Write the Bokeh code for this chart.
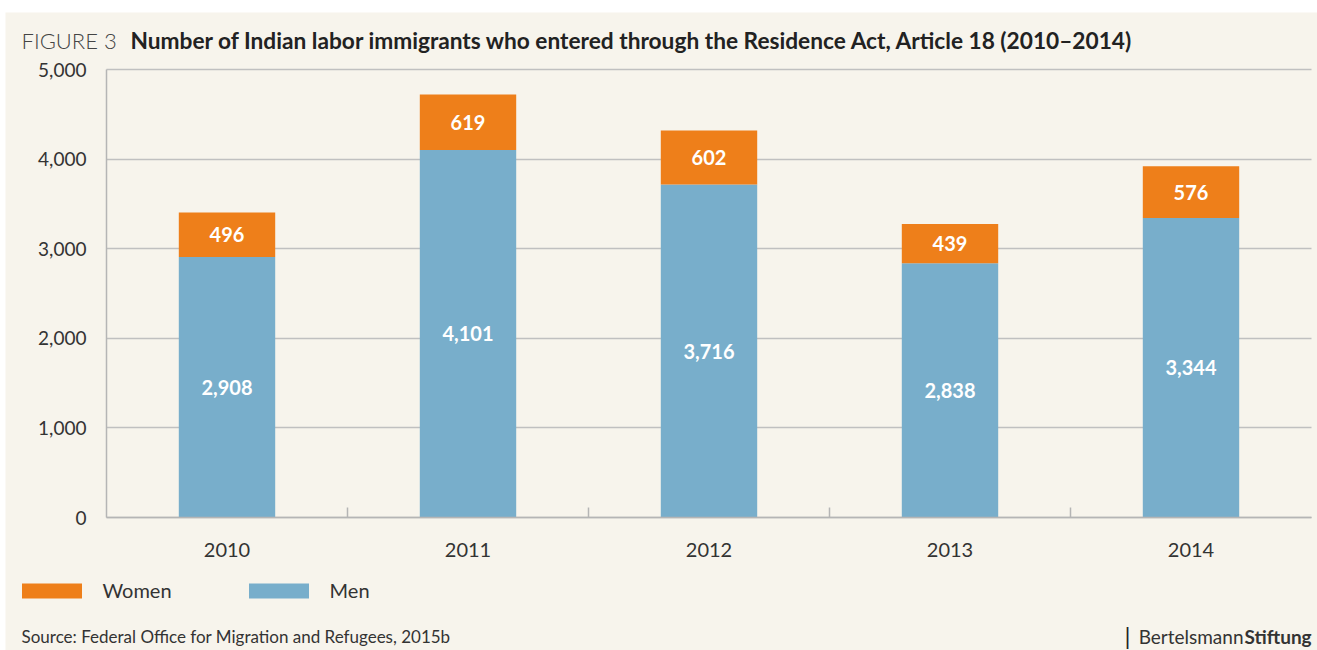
from bokeh.plotting import figure
from bokeh.models import (Range1d, FixedTicker, NumeralTickFormatter, Label, Legend, LegendItem,
                          ColumnDataSource, LabelSet, Grid)
from bokeh.core.properties import value
from bokeh.embed import file_html
from bokeh.resources import INLINE

# ---- data ----
years = ["2010", "2011", "2012", "2013", "2014"]
men = [2908, 4101, 3716, 2838, 3344]
women = [496, 619, 602, 439, 576]
y_ticks = [0, 1000, 2000, 3000, 4000, 5000]
y_max = 5000

# ---- styling / layout ----
BG = "#f7f4ec"
ORANGE = "#ee7f1a"
BLUE = "#78aecb"
TXT = "#333333"
GRID = "#c0c0c0"
FONT = "Lato"
LIGHT = "'Lato Light', Lato"

FIG_X0, FIG_Y0 = 5, 12          # page offset of the panel (via margin)
W, H = 1312, 638
PLOT_L, PLOT_R, PLOT_T, PLOT_B = 106, 1311, 69, 517   # page pixels of the data area

n = len(years)
xpp = n / (PLOT_R - PLOT_L)
ypp = y_max / (PLOT_B - PLOT_T)
x_range = Range1d(-(PLOT_L - FIG_X0) * xpp, n + (FIG_X0 + W - PLOT_R) * xpp)
y_range = Range1d(-(FIG_Y0 + H - PLOT_B) * ypp, y_max + (PLOT_T - FIG_Y0) * ypp)

p = figure(width=W, height=H, output_backend="svg", toolbar_location=None,
           x_range=x_range, y_range=y_range, min_border=0,
           background_fill_color=BG, border_fill_color=BG, outline_line_color=None,
           margin=(FIG_Y0, 0, 0, FIG_X0))

def sx(px):  # page x -> screen units of the frame
    return px - FIG_X0

def sy(py):  # page y -> screen units of the frame (from bottom)
    return FIG_Y0 + H - py

xs = [i + 0.5 for i in range(n)]
totals = [m + w for m, w in zip(men, women)]
src = ColumnDataSource(dict(
    x=xs, men=men, women=women, total=totals,
    men_mid=[m / 2 for m in men],
    women_mid=[m + w / 2 for m, w in zip(men, women)],
    men_lbl=[f"{m:,}" for m in men], women_lbl=[f"{w:,}" for w in women],
))

# grid
p.xgrid.grid_line_color = None
p.ygrid.grid_line_color = None
grid = Grid(dimension=1, ticker=FixedTicker(ticks=y_ticks), grid_line_color=GRID, grid_line_width=1.5)
if "cross_bounds" in Grid.properties():
    grid.cross_bounds = (0, n)
    p.add_layout(grid)
else:
    p.segment(x0=[0] * len(y_ticks), x1=[n] * len(y_ticks), y0=y_ticks, y1=y_ticks,
              line_color=GRID, line_width=1.5)

r_men = p.vbar(x="x", width=0.4, bottom=0, top="men", source=src, fill_color=BLUE, line_color=None)
r_women = p.vbar(x="x", width=0.4, bottom="men", top="total", source=src, fill_color=ORANGE, line_color=None)

for col_y, col_t in (("men_mid", "men_lbl"), ("women_mid", "women_lbl")):
    p.add_layout(LabelSet(x="x", y=col_y, text=col_t, source=src, text_align="center",
                          text_baseline="middle", text_color="white", text_font=value(FONT),
                          text_font_style="bold", text_font_size=value("20px")))

# axes (drawn at the data origin)
yax = p.yaxis[0]
yax.fixed_location = 0
yax.bounds = (0, y_max)
yax.ticker = FixedTicker(ticks=y_ticks)
yax.formatter = NumeralTickFormatter(format="0,0")
yax.major_tick_line_color = None
yax.minor_tick_line_color = None
yax.axis_line_color = "#b5b5b5"
yax.axis_line_width = 1.5
yax.major_label_standoff = 14
yax.major_label_text_font = FONT
yax.major_label_text_font_size = "19px"
yax.major_label_text_color = TXT

xax = p.xaxis[0]
xax.fixed_location = 0
xax.bounds = (0, n)
xax.ticker = FixedTicker(ticks=xs, minor_ticks=list(range(1, n)))
xax.major_label_overrides = {x: y for x, y in zip(xs, years)}
xax.major_tick_line_color = None
xax.minor_tick_line_color = "#b5b5b5"
xax.minor_tick_line_width = 1.5
xax.minor_tick_in = 10
xax.minor_tick_out = 0
xax.axis_line_color = "#b5b5b5"
xax.axis_line_width = 1.5
xax.major_label_standoff = 19
xax.major_label_text_font = FONT
xax.major_label_text_font_size = "20px"
xax.major_label_text_color = TXT

# legend
legend = Legend(items=[LegendItem(label="Women", renderers=[r_women]),
                       LegendItem(label="Men", renderers=[r_men])],
                orientation="horizontal", location=(sx(13.5), sy(602)),
                glyph_width=75, glyph_height=19, label_standoff=14, spacing=69,
                padding=0, margin=0, border_line_color=None, background_fill_alpha=0,
                label_text_font=FONT, label_text_font_size="20px", label_text_color=TXT)
p.add_layout(legend)

def lab(text, x, y, size, color=TXT, align="left", font=FONT, style="normal"):
    p.add_layout(Label(x=sx(x), y=sy(y), x_units="screen", y_units="screen", text=text,
                       text_font=font, text_font_size=size, text_color=color,
                       text_font_style=style, text_align=align, text_baseline="middle"))

lab("FIGURE 3", 21, 40, "22px", color="#444444", font=LIGHT)
lab("Number of Indian labor immigrants who entered through the Residence Act, Article 18 (2010\u20132014)",
    130, 40, "22.7px", color="#222222", style="bold")
lab("Source: Federal Office for Migration and Refugees, 2015b", 21, 636, "17px")
lab("Bertelsmann", 1243, 636, "19px", align="right")
lab("Stiftung", 1244, 636, "19px", style="bold")
lab("|", 1124, 635, "24px", color="#222222")

open("out.html", "w").write(file_html(p, INLINE))
